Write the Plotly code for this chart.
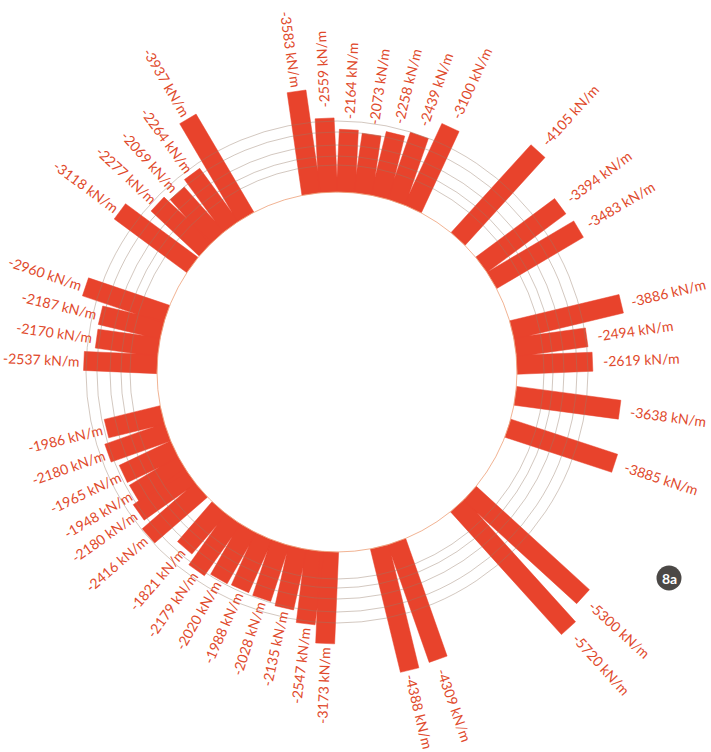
import numpy as np
import plotly.graph_objects as go

# Ring loads around the lining, listed clockwise starting near the top
values = [-3583, -2559, -2164, -2073, -2258, -2439, -3100,
          -4105, -3394, -3483,
          -3886, -2494, -2619, -3638, -3885,
          -5300, -5720, -4309, -4388,
          -3173, -2547, -2135, -2028, -1988, -2020, -2179, -1821,
          -2416, -2180, -1948, -1965, -2180, -1986,
          -2537, -2170, -2187, -2960,
          -3118, -2277, -2069, -2264, -3937]

# Direction of each bar (degrees, counter-clockwise from the +x axis)
angles = [98.2, 92.8, 87.2, 81.7, 76.2, 70.8, 65.1,
          47.7, 36.6, 30.6,
          13.5, 7.9, 2.3, -7.6, -18.2,
          -42.4, -47.9, -70.6, -76.3,
          267.5, 262.9, 257.4, 251.6, 245.9, 240.3, 234.7, 229.1,
          221.0, 215.3, 210.9, 205.5, 199.5, 193.8,
          177.5, 172.1, 166.5, 161.3,
          143.5, 136.9, 131.8, 126.2, 120.5]

unit = "kN/m"

# Geometry (axis units are kN/m; PX converts screen pixels to axis units)
PX = 1 / 0.0289            # kN/m per pixel
BASE = 180 * PX            # radius of the inner (empty) circle
HALF_W = 9.5 * PX          # half bar width
RINGS = [207, 216, 227, 240, 251]
LABEL_W = 72 * PX
CX, CY = 337, 372          # centre of the ring in page pixels
W, H = 711, 752

BAR_COLOR = "#e8432c"
TEXT_COLOR = "#df4a2c"

fig = go.Figure()

# Rectangular radial bars
xs, ys = [], []
for v, a in zip(values, angles):
    t = np.deg2rad(a)
    u = np.array([np.cos(t), np.sin(t)])
    n = np.array([-np.sin(t), np.cos(t)])
    r_end = BASE + abs(v)
    b = BASE * u
    e = r_end * u
    for p in (b + HALF_W * n, e + HALF_W * n, e - HALF_W * n, b - HALF_W * n, b + HALF_W * n):
        xs.append(p[0]); ys.append(p[1])
    xs.append(None); ys.append(None)

fig.add_trace(go.Scatter(x=xs, y=ys, mode="lines", fill="toself",
                         fillcolor=BAR_COLOR, line=dict(color=BAR_COLOR, width=0.5),
                         hoverinfo="skip", showlegend=False))

# Concentric guide rings
shapes = []
shapes.append(dict(type="circle", xref="x", yref="y",
                   x0=-BASE, y0=-BASE, x1=BASE, y1=BASE,
                   line=dict(color="rgba(238,160,120,0.8)", width=1), layer="above"))
for rp in RINGS:
    r = rp * PX
    shapes.append(dict(type="circle", xref="x", yref="y",
                       x0=-r, y0=-r, x1=r, y1=r,
                       line=dict(color="rgba(150,125,105,0.42)", width=1), layer="above"))

# Badge
BX, BY, BR = 669, 578, 12.5
shapes.append(dict(type="circle", xref="paper", yref="paper",
                   x0=(BX - BR) / W, x1=(BX + BR) / W,
                   y0=(H - BY - BR) / H, y1=(H - BY + BR) / H,
                   fillcolor="#4b4846", line=dict(width=0), layer="above"))

annotations = []
for v, a in zip(values, angles):
    t = np.deg2rad(a)
    a_norm = a % 360
    outward = not (95 < a_norm < 270)
    gap = 13 if outward else 6
    rc_px = 180 + abs(v) / PX + gap + 36
    # keep the far end of the label inside the page
    far_y = CY + (rc_px + 36) * -np.sin(t) + 3
    if far_y > H - 2:
        rc_px -= (far_y - (H - 2)) / max(abs(np.sin(t)), 1e-6)
    rc = rc_px * PX
    ang = -a if outward else -(a + 180)
    ang = ((ang + 180) % 360) - 180
    annotations.append(dict(
        x=rc * np.cos(t), y=rc * np.sin(t), xref="x", yref="y",
        text=f"{v} {unit}", showarrow=False, textangle=ang,
        xanchor="center", yanchor="middle",
        font=dict(family="Lato", size=14, color=TEXT_COLOR)))

annotations.append(dict(x=BX / W, y=(H - BY) / H, xref="paper", yref="paper",
                        text="<b>8a</b>", showarrow=False, xanchor="center", yanchor="middle",
                        font=dict(family="Lato", size=14, color="white")))

fig.update_layout(
    width=W, height=H,
    margin=dict(l=0, r=0, t=0, b=0),
    paper_bgcolor="white", plot_bgcolor="white",
    xaxis=dict(range=[-CX * PX, (W - CX) * PX], visible=False, fixedrange=True),
    yaxis=dict(range=[-(H - CY) * PX, CY * PX], visible=False, fixedrange=True),
    shapes=shapes, annotations=annotations,
    showlegend=False,
)

fig.write_html("out.html")
